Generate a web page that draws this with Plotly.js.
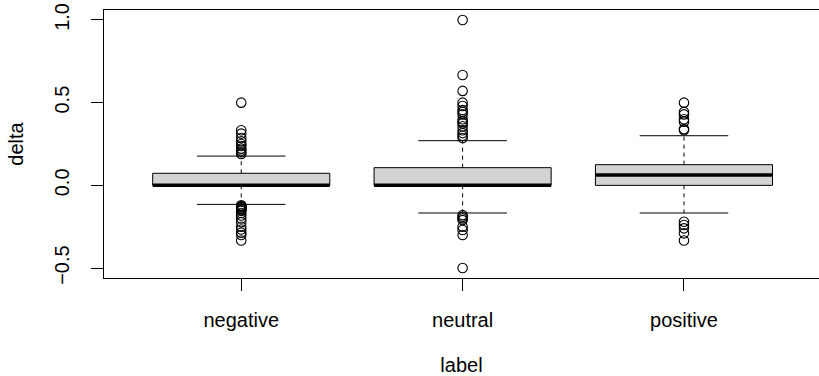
<!DOCTYPE html>
<html>
<head>
<meta charset="utf-8">
<script src="https://cdn.plot.ly/plotly-3.0.1.min.js"></script>
<style>html,body{margin:0;padding:0;background:#fff;overflow:hidden}</style>
</head>
<body>
<div id="chart" style="width:819px;height:376px"></div>
<script>
// ---- data ----
const categories = ["negative", "neutral", "positive"];
const q1 = [0, 0, 0];
const median = [0, 0, 0.0625];
const q3 = [0.073, 0.107, 0.125];
const lowerWhisker = [-0.115, -0.167, -0.167];
const upperWhisker = [0.177, 0.27, 0.3];
const outliersNegative = [0.5, 0.333, 0.313, 0.286, 0.267, 0.25, 0.238, 0.222, 0.211, 0.2, 0.19,
  -0.12, -0.125, -0.13, -0.133, -0.14, -0.143, -0.15, -0.154, -0.167, -0.182, -0.2, -0.222, -0.25, -0.267, -0.286, -0.3, -0.333];
const outliersNeutral = [1.0, 0.667, 0.571, 0.5, 0.48, 0.455, 0.444, 0.429, 0.4, 0.385, 0.375, 0.357, 0.333, 0.316, 0.3, 0.286,
  -0.18, -0.19, -0.2, -0.21, -0.25, -0.27, -0.3, -0.5];
const outliersPositive = [0.5, 0.444, 0.429, 0.4, 0.385, 0.34, 0.333,
  -0.22, -0.24, -0.26, -0.29, -0.333];
const outliers = [outliersNegative, outliersNeutral, outliersPositive];
const yTicks = [-0.5, 0.0, 0.5, 1.0];
const yTickText = ["\u22120.5", "0.0", "0.5", "1.0"];

// ---- styling ----
const boxHalf = 0.4, capHalf = 0.2;
const FONT = "Liberation Sans, Arial, Helvetica, sans-serif";
const FS = 20;
const traces = [];
categories.forEach((c, i) => {
  const x = i + 1;
  traces.push({type: "scatter", mode: "lines", x: [x, x], y: [q3[i], upperWhisker[i]],
    line: {color: "#000", width: 1, dash: "4px,4px"}, hoverinfo: "skip"});
  traces.push({type: "scatter", mode: "lines", x: [x, x], y: [q1[i], lowerWhisker[i]],
    line: {color: "#000", width: 1, dash: "4px,4px"}, hoverinfo: "skip"});
  traces.push({type: "scatter", mode: "lines", x: [x - capHalf, x + capHalf], y: [upperWhisker[i], upperWhisker[i]],
    line: {color: "#000", width: 1}, hoverinfo: "skip"});
  traces.push({type: "scatter", mode: "lines", x: [x - capHalf, x + capHalf], y: [lowerWhisker[i], lowerWhisker[i]],
    line: {color: "#000", width: 1}, hoverinfo: "skip"});
  traces.push({type: "scatter", mode: "lines",
    x: [x - boxHalf, x + boxHalf, x + boxHalf, x - boxHalf, x - boxHalf],
    y: [q1[i], q1[i], q3[i], q3[i], q1[i]],
    fill: "toself", fillcolor: "#D3D3D3", line: {color: "#000", width: 1}, hoverinfo: "skip"});
  traces.push({type: "scatter", mode: "lines", x: [x - boxHalf, x + boxHalf], y: [median[i], median[i]],
    line: {color: "#000", width: 3.5}, hoverinfo: "skip"});
  traces.push({type: "scatter", mode: "markers", x: outliers[i].map(() => x), y: outliers[i],
    marker: {symbol: "circle-open", size: 9.5, color: "#000", line: {width: 1.1, color: "#000"}}, name: c});
});

const layout = {
  width: 819, height: 376,
  margin: {l: 104, r: 0, t: 10, b: 98},
  showlegend: false,
  paper_bgcolor: "#fff", plot_bgcolor: "#fff",
  font: {family: FONT, size: FS, color: "#000"},
  xaxis: {
    range: [0.38, 3.61], tickvals: [1, 2, 3], ticktext: categories,
    showgrid: false, zeroline: false, showline: true, mirror: true, linecolor: "#000", linewidth: 1,
    ticks: "outside", ticklen: 12, tickcolor: "#000", tickwidth: 1, ticklabelstandoff: 12,
    tickfont: {family: FONT, size: FS},
    title: {text: "label", font: {family: FONT, size: FS}, standoff: 28}
  },
  yaxis: {
    range: [-0.56, 1.06], tickvals: yTicks, ticktext: yTickText, tickangle: -90,
    showgrid: false, zeroline: false, showline: true, mirror: true, linecolor: "#000", linewidth: 1,
    ticks: "outside", ticklen: 12, tickcolor: "#000", tickwidth: 1, ticklabelstandoff: 14,
    tickfont: {family: FONT, size: FS},
    title: {text: "delta", font: {family: FONT, size: FS}, standoff: 22}
  }
};
Plotly.newPlot("chart", traces, layout, {staticPlot: true, displayModeBar: false});
</script>
</body>
</html>
